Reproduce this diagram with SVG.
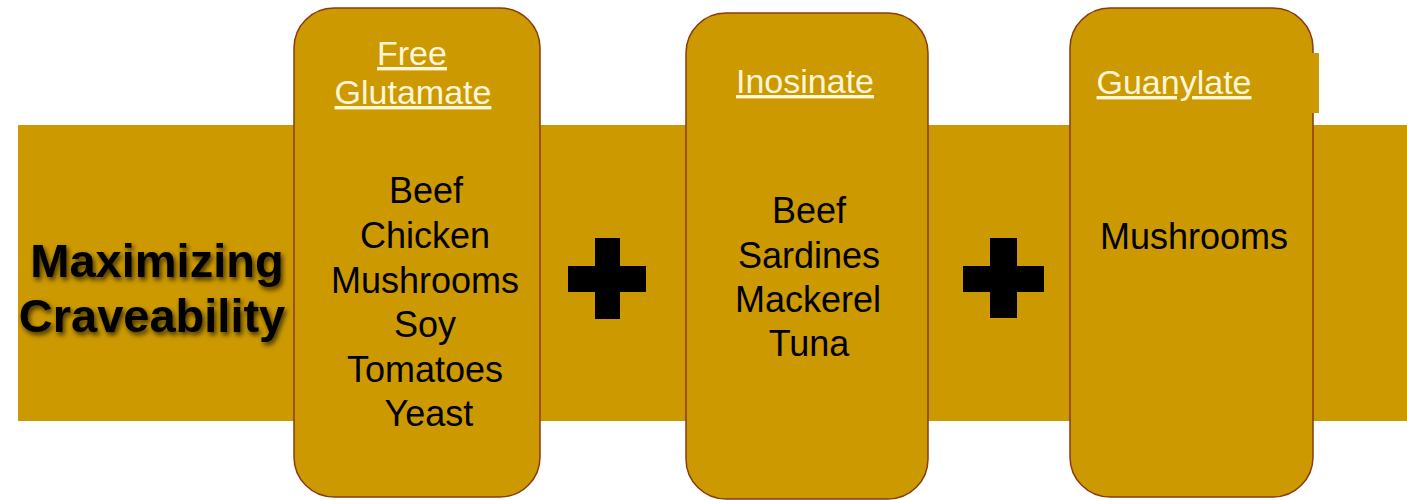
<svg xmlns="http://www.w3.org/2000/svg" width="1407" height="500" viewBox="0 0 1407 500">
<defs>
<filter id="sh" x="-10%" y="-30%" width="120%" height="160%">
<feDropShadow dx="2" dy="3" stdDeviation="2.5" flood-color="#000" flood-opacity="0.7"/>
</filter>
</defs>
<style>
.box{fill:#CC9900;stroke:#8B3A0F;stroke-width:1.5}
.hd{font-family:"Liberation Sans",Arial,sans-serif;font-size:34px;fill:#FFF6DA;text-anchor:middle;text-decoration:underline}
.bd{font-family:"Liberation Sans",Arial,sans-serif;font-size:36px;fill:#000;text-anchor:middle}
.tt{font-family:"Liberation Sans",Arial,sans-serif;font-size:47px;font-weight:bold;fill:#000;text-anchor:middle}
.plus{fill:#000}
</style>
<rect id="band" x="18" y="125" width="1389" height="296" fill="#CC9900"/>
<g id="title" filter="url(#sh)">
<text class="tt" x="157" y="277">Maximizing</text>
<text class="tt" x="152" y="332">Craveability</text>
</g>
<g id="glutamate">
<rect class="box" x="294" y="8" width="246" height="489" rx="40" ry="40"/>
<text class="hd" x="412" y="65">Free</text>
<text class="hd" x="413" y="104">Glutamate</text>
<text class="bd" x="426" y="203">Beef</text>
<text class="bd" x="425" y="248">Chicken</text>
<text class="bd" x="425" y="293">Mushrooms</text>
<text class="bd" x="425" y="337">Soy</text>
<text class="bd" x="425" y="382">Tomatoes</text>
<text class="bd" x="429" y="426">Yeast</text>
</g>
<g id="plus1">
<rect class="plus" x="595" y="238" width="25" height="81"/>
<rect class="plus" x="568" y="266" width="78" height="26"/>
</g>
<g id="inosinate">
<rect class="box" x="686" y="13" width="242" height="486" rx="40" ry="40"/>
<text class="hd" x="805" y="93">Inosinate</text>
<text class="bd" x="809" y="223">Beef</text>
<text class="bd" x="809" y="268">Sardines</text>
<text class="bd" x="808" y="312">Mackerel</text>
<text class="bd" x="809" y="356">Tuna</text>
</g>
<g id="plus2">
<rect class="plus" x="990" y="238" width="27" height="80"/>
<rect class="plus" x="963" y="266" width="81" height="26"/>
</g>
<g id="guanylate">
<rect class="box" x="1070" y="8" width="243" height="489" rx="40" ry="40"/>
<rect x="1310" y="53" width="9" height="60" fill="#CC9900"/>
<text class="hd" x="1174" y="94">Guanylate</text>
<text class="bd" x="1194" y="249">Mushrooms</text>
</g>
<g id="connectors"/>
</svg>
